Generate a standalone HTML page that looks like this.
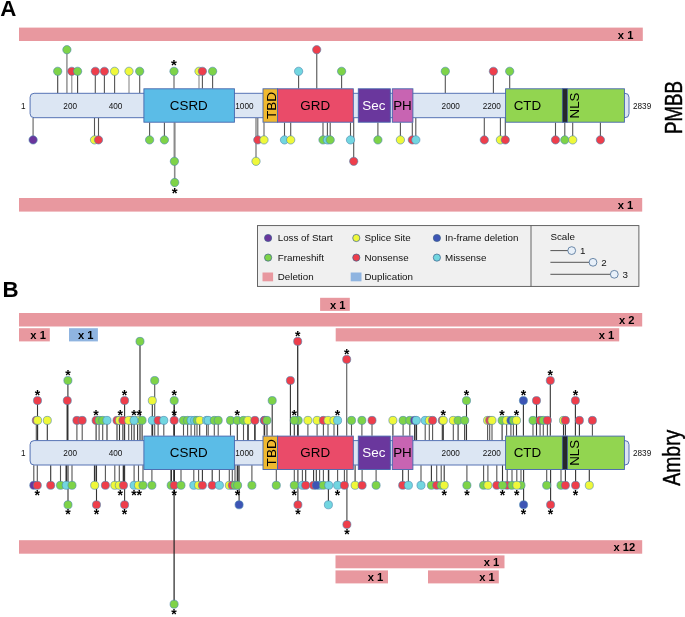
<!DOCTYPE html>
<html lang="en"><head><meta charset="utf-8"><title>NF1 variant lollipop plots</title>
<style>html,body{margin:0;padding:0;background:#fff}svg{display:block}</style></head><body>
<svg width="685" height="617" viewBox="0 0 685 617">
<rect width="685" height="617" fill="#fff"/>
<text x="0.3" y="16" font-size="22.3" font-weight="bold" font-family="Liberation Sans, Arial, sans-serif">A</text>
<rect x="19" y="27.6" width="623.8" height="13.4" fill="#e8989f"/>
<text x="633.4" y="38.7" font-size="11.2" font-weight="bold" text-anchor="end" font-family="Liberation Sans, Arial, sans-serif">x 1</text>
<rect x="19" y="198.0" width="623.2" height="13.6" fill="#e8989f"/>
<text x="633.2" y="209.2" font-size="11.2" font-weight="bold" text-anchor="end" font-family="Liberation Sans, Arial, sans-serif">x 1</text>
<line x1="57.7" y1="93.0" x2="57.7" y2="71.3" stroke="#444" stroke-width="1.1"/>
<line x1="66.9" y1="93.0" x2="66.9" y2="49.7" stroke="#999" stroke-width="1.6"/>
<line x1="71.8" y1="93.0" x2="71.8" y2="71.3" stroke="#8a8a8a" stroke-width="1.1"/>
<line x1="77.6" y1="93.0" x2="77.6" y2="71.3" stroke="#444" stroke-width="1.1"/>
<line x1="95.3" y1="93.0" x2="95.3" y2="71.3" stroke="#555" stroke-width="1.1"/>
<line x1="104.4" y1="93.0" x2="104.4" y2="71.3" stroke="#555" stroke-width="1.1"/>
<line x1="114.6" y1="93.0" x2="114.6" y2="71.3" stroke="#555" stroke-width="1.1"/>
<line x1="129.0" y1="93.0" x2="129.0" y2="71.3" stroke="#8a8a8a" stroke-width="1.1"/>
<line x1="139.7" y1="93.0" x2="139.7" y2="71.3" stroke="#555" stroke-width="1.1"/>
<line x1="174.0" y1="88.4" x2="174.0" y2="71.3" stroke="#8a8a8a" stroke-width="1.5"/>
<line x1="199.0" y1="88.4" x2="199.0" y2="71.3" stroke="#8a8a8a" stroke-width="1.1"/>
<line x1="202.4" y1="88.4" x2="202.4" y2="71.3" stroke="#555" stroke-width="1.1"/>
<line x1="212.6" y1="88.4" x2="212.6" y2="71.3" stroke="#555" stroke-width="1.1"/>
<line x1="298.6" y1="88.4" x2="298.6" y2="71.3" stroke="#555" stroke-width="1.1"/>
<line x1="316.7" y1="88.4" x2="316.7" y2="49.7" stroke="#777" stroke-width="1.4"/>
<line x1="341.6" y1="88.4" x2="341.6" y2="71.3" stroke="#555" stroke-width="1.1"/>
<line x1="445.3" y1="93.0" x2="445.3" y2="71.3" stroke="#555" stroke-width="1.1"/>
<line x1="493.4" y1="93.0" x2="493.4" y2="71.3" stroke="#555" stroke-width="1.1"/>
<line x1="509.7" y1="88.4" x2="509.7" y2="71.3" stroke="#555" stroke-width="1.1"/>
<circle cx="57.7" cy="71.3" r="4.15" fill="#7ed348" stroke="#4a86b0" stroke-width="0.6"/>
<circle cx="66.9" cy="49.7" r="4.15" fill="#7ed348" stroke="#4a86b0" stroke-width="0.6"/>
<circle cx="71.8" cy="71.3" r="4.15" fill="#ee3e4b" stroke="#4a86b0" stroke-width="0.6"/>
<circle cx="77.6" cy="71.3" r="4.15" fill="#7ed348" stroke="#4a86b0" stroke-width="0.6"/>
<circle cx="95.3" cy="71.3" r="4.15" fill="#ee3e4b" stroke="#4a86b0" stroke-width="0.6"/>
<circle cx="104.4" cy="71.3" r="4.15" fill="#ee3e4b" stroke="#4a86b0" stroke-width="0.6"/>
<circle cx="114.6" cy="71.3" r="4.15" fill="#eff83a" stroke="#4a86b0" stroke-width="0.6"/>
<circle cx="129.0" cy="71.3" r="4.15" fill="#eff83a" stroke="#4a86b0" stroke-width="0.6"/>
<circle cx="139.7" cy="71.3" r="4.15" fill="#7ed348" stroke="#4a86b0" stroke-width="0.6"/>
<circle cx="174.0" cy="71.3" r="4.15" fill="#7ed348" stroke="#4a86b0" stroke-width="0.6"/>
<circle cx="199.0" cy="71.3" r="4.15" fill="#eff83a" stroke="#4a86b0" stroke-width="0.6"/>
<circle cx="202.4" cy="71.3" r="4.15" fill="#ee3e4b" stroke="#4a86b0" stroke-width="0.6"/>
<circle cx="212.6" cy="71.3" r="4.15" fill="#7ed348" stroke="#4a86b0" stroke-width="0.6"/>
<circle cx="298.6" cy="71.3" r="4.15" fill="#72d6e0" stroke="#4a86b0" stroke-width="0.6"/>
<circle cx="316.7" cy="49.7" r="4.15" fill="#ee3e4b" stroke="#4a86b0" stroke-width="0.6"/>
<circle cx="341.6" cy="71.3" r="4.15" fill="#7ed348" stroke="#4a86b0" stroke-width="0.6"/>
<circle cx="445.3" cy="71.3" r="4.15" fill="#7ed348" stroke="#4a86b0" stroke-width="0.6"/>
<circle cx="493.4" cy="71.3" r="4.15" fill="#ee3e4b" stroke="#4a86b0" stroke-width="0.6"/>
<circle cx="509.7" cy="71.3" r="4.15" fill="#7ed348" stroke="#4a86b0" stroke-width="0.6"/>
<text x="174.0" y="70.0" font-size="15.0" font-weight="bold" text-anchor="middle" font-family="Liberation Sans, Arial, sans-serif">*</text>
<line x1="33.1" y1="118.0" x2="33.1" y2="139.9" stroke="#8a8a8a" stroke-width="1.5"/>
<line x1="94.5" y1="118.0" x2="94.5" y2="139.9" stroke="#555" stroke-width="1.1"/>
<line x1="98.5" y1="118.0" x2="98.5" y2="139.9" stroke="#555" stroke-width="1.1"/>
<line x1="149.6" y1="122.6" x2="149.6" y2="139.9" stroke="#555" stroke-width="1.1"/>
<line x1="164.4" y1="122.6" x2="164.4" y2="139.9" stroke="#555" stroke-width="1.1"/>
<line x1="174.4" y1="122.6" x2="174.4" y2="161.3" stroke="#8a8a8a" stroke-width="1.6"/>
<line x1="174.7" y1="122.6" x2="174.7" y2="182.5" stroke="#8a8a8a" stroke-width="1.6"/>
<line x1="256.0" y1="118.0" x2="256.0" y2="161.3" stroke="#666" stroke-width="1.1"/>
<line x1="257.8" y1="118.0" x2="257.8" y2="139.9" stroke="#666" stroke-width="1.1"/>
<line x1="264.0" y1="122.6" x2="264.0" y2="139.9" stroke="#666" stroke-width="1.1"/>
<line x1="284.5" y1="122.6" x2="284.5" y2="139.9" stroke="#555" stroke-width="1.1"/>
<line x1="290.7" y1="122.6" x2="290.7" y2="139.9" stroke="#555" stroke-width="1.1"/>
<line x1="323.0" y1="122.6" x2="323.0" y2="139.9" stroke="#555" stroke-width="1.1"/>
<line x1="327.4" y1="122.6" x2="327.4" y2="139.9" stroke="#555" stroke-width="1.1"/>
<line x1="330.2" y1="122.6" x2="330.2" y2="139.9" stroke="#555" stroke-width="1.1"/>
<line x1="350.5" y1="122.6" x2="350.5" y2="139.9" stroke="#555" stroke-width="1.1"/>
<line x1="353.7" y1="118.0" x2="353.7" y2="161.3" stroke="#555" stroke-width="1.1"/>
<line x1="377.9" y1="122.6" x2="377.9" y2="139.9" stroke="#555" stroke-width="1.1"/>
<line x1="400.4" y1="122.6" x2="400.4" y2="139.9" stroke="#555" stroke-width="1.1"/>
<line x1="412.3" y1="122.6" x2="412.3" y2="139.9" stroke="#555" stroke-width="1.1"/>
<line x1="415.8" y1="118.0" x2="415.8" y2="139.9" stroke="#555" stroke-width="1.1"/>
<line x1="484.3" y1="118.0" x2="484.3" y2="139.9" stroke="#555" stroke-width="1.1"/>
<line x1="500.4" y1="118.0" x2="500.4" y2="139.9" stroke="#555" stroke-width="1.1"/>
<line x1="505.3" y1="118.0" x2="505.3" y2="139.9" stroke="#555" stroke-width="1.1"/>
<line x1="555.5" y1="122.6" x2="555.5" y2="139.9" stroke="#555" stroke-width="1.1"/>
<line x1="564.8" y1="122.6" x2="564.8" y2="139.9" stroke="#555" stroke-width="1.1"/>
<line x1="572.7" y1="122.6" x2="572.7" y2="139.9" stroke="#555" stroke-width="1.1"/>
<line x1="600.4" y1="122.6" x2="600.4" y2="139.9" stroke="#555" stroke-width="1.1"/>
<circle cx="33.1" cy="139.9" r="4.15" fill="#6a359c" stroke="#4a86b0" stroke-width="0.6"/>
<circle cx="94.5" cy="139.9" r="4.15" fill="#eff83a" stroke="#4a86b0" stroke-width="0.6"/>
<circle cx="98.5" cy="139.9" r="4.15" fill="#ee3e4b" stroke="#4a86b0" stroke-width="0.6"/>
<circle cx="149.6" cy="139.9" r="4.15" fill="#7ed348" stroke="#4a86b0" stroke-width="0.6"/>
<circle cx="164.4" cy="139.9" r="4.15" fill="#7ed348" stroke="#4a86b0" stroke-width="0.6"/>
<circle cx="174.4" cy="161.3" r="4.15" fill="#7ed348" stroke="#4a86b0" stroke-width="0.6"/>
<circle cx="174.7" cy="182.5" r="4.15" fill="#7ed348" stroke="#4a86b0" stroke-width="0.6"/>
<circle cx="256.0" cy="161.3" r="4.15" fill="#eff83a" stroke="#4a86b0" stroke-width="0.6"/>
<circle cx="257.8" cy="139.9" r="4.15" fill="#ee3e4b" stroke="#4a86b0" stroke-width="0.6"/>
<circle cx="264.0" cy="139.9" r="4.15" fill="#eff83a" stroke="#4a86b0" stroke-width="0.6"/>
<circle cx="284.5" cy="139.9" r="4.15" fill="#72d6e0" stroke="#4a86b0" stroke-width="0.6"/>
<circle cx="290.7" cy="139.9" r="4.15" fill="#eff83a" stroke="#4a86b0" stroke-width="0.6"/>
<circle cx="323.0" cy="139.9" r="4.15" fill="#7ed348" stroke="#4a86b0" stroke-width="0.6"/>
<circle cx="327.4" cy="139.9" r="4.15" fill="#72d6e0" stroke="#4a86b0" stroke-width="0.6"/>
<circle cx="330.2" cy="139.9" r="4.15" fill="#7ed348" stroke="#4a86b0" stroke-width="0.6"/>
<circle cx="350.5" cy="139.9" r="4.15" fill="#72d6e0" stroke="#4a86b0" stroke-width="0.6"/>
<circle cx="353.7" cy="161.3" r="4.15" fill="#ee3e4b" stroke="#4a86b0" stroke-width="0.6"/>
<circle cx="377.9" cy="139.9" r="4.15" fill="#7ed348" stroke="#4a86b0" stroke-width="0.6"/>
<circle cx="400.4" cy="139.9" r="4.15" fill="#eff83a" stroke="#4a86b0" stroke-width="0.6"/>
<circle cx="412.3" cy="139.9" r="4.15" fill="#ee3e4b" stroke="#4a86b0" stroke-width="0.6"/>
<circle cx="415.8" cy="139.9" r="4.15" fill="#72d6e0" stroke="#4a86b0" stroke-width="0.6"/>
<circle cx="484.3" cy="139.9" r="4.15" fill="#ee3e4b" stroke="#4a86b0" stroke-width="0.6"/>
<circle cx="500.4" cy="139.9" r="4.15" fill="#eff83a" stroke="#4a86b0" stroke-width="0.6"/>
<circle cx="505.3" cy="139.9" r="4.15" fill="#ee3e4b" stroke="#4a86b0" stroke-width="0.6"/>
<circle cx="555.5" cy="139.9" r="4.15" fill="#ee3e4b" stroke="#4a86b0" stroke-width="0.6"/>
<circle cx="564.8" cy="139.9" r="4.15" fill="#7ed348" stroke="#4a86b0" stroke-width="0.6"/>
<circle cx="572.7" cy="139.9" r="4.15" fill="#eff83a" stroke="#4a86b0" stroke-width="0.6"/>
<circle cx="600.4" cy="139.9" r="4.15" fill="#ee3e4b" stroke="#4a86b0" stroke-width="0.6"/>
<text x="174.7" y="197.9" font-size="15.0" font-weight="bold" text-anchor="middle" font-family="Liberation Sans, Arial, sans-serif">*</text>
<rect x="30.1" y="93.30" width="598.9" height="24.4" rx="4" ry="4" fill="#dce6f3" stroke="#4565ad" stroke-width="0.9"/>
<rect x="143.9" y="88.80" width="90.5" height="33.4" fill="#5bbce7" stroke="#4565ad" stroke-width="0.9"/>
<rect x="263.0" y="88.80" width="14.6" height="33.4" fill="#f0b92e" stroke="#4565ad" stroke-width="0.9"/>
<rect x="277.6" y="88.80" width="75.7" height="33.4" fill="#ea4b69" stroke="#4565ad" stroke-width="0.9"/>
<rect x="358.3" y="88.80" width="32.0" height="33.4" fill="#6a379d" stroke="#4565ad" stroke-width="0.9"/>
<rect x="392.3" y="88.80" width="20.6" height="33.4" fill="#c864b2" stroke="#4565ad" stroke-width="0.9"/>
<rect x="505.6" y="88.80" width="118.8" height="33.4" fill="#92d550" stroke="#4565ad" stroke-width="0.9"/>
<rect x="562.3" y="88.80" width="5.2" height="33.4" fill="#26282c" stroke="#4565ad" stroke-width="0.7"/>
<text x="23.2" y="108.6" font-size="8.2" text-anchor="middle" font-family="Liberation Sans, Arial, sans-serif" fill="#111">1</text>
<text x="70.2" y="108.6" font-size="8.2" text-anchor="middle" font-family="Liberation Sans, Arial, sans-serif" fill="#111">200</text>
<text x="115.6" y="108.6" font-size="8.2" text-anchor="middle" font-family="Liberation Sans, Arial, sans-serif" fill="#111">400</text>
<text x="244.4" y="108.6" font-size="8.2" text-anchor="middle" font-family="Liberation Sans, Arial, sans-serif" fill="#111">1000</text>
<text x="450.7" y="108.6" font-size="8.2" text-anchor="middle" font-family="Liberation Sans, Arial, sans-serif" fill="#111">2000</text>
<text x="491.8" y="108.6" font-size="8.2" text-anchor="middle" font-family="Liberation Sans, Arial, sans-serif" fill="#111">2200</text>
<text x="642.1" y="108.6" font-size="8.2" text-anchor="middle" font-family="Liberation Sans, Arial, sans-serif" fill="#111">2839</text>
<text x="188.8" y="109.9" font-size="13.4" text-anchor="middle" font-family="Liberation Sans, Arial, sans-serif" fill="#000">CSRD</text>
<text x="315.2" y="109.9" font-size="13.4" text-anchor="middle" font-family="Liberation Sans, Arial, sans-serif" fill="#000">GRD</text>
<text x="373.9" y="109.9" font-size="13.4" text-anchor="middle" font-family="Liberation Sans, Arial, sans-serif" fill="#fff">Sec</text>
<text x="402.5" y="109.9" font-size="13.4" text-anchor="middle" font-family="Liberation Sans, Arial, sans-serif" fill="#000">PH</text>
<text x="527.4" y="109.9" font-size="13.4" text-anchor="middle" font-family="Liberation Sans, Arial, sans-serif" fill="#000">CTD</text>
<text transform="translate(275.7,105.5) rotate(-90)" font-size="13.6" text-anchor="middle" font-family="Liberation Sans, Arial, sans-serif">TBD</text>
<text transform="translate(579.1,105.5) rotate(-90)" font-size="13.3" text-anchor="middle" font-family="Liberation Sans, Arial, sans-serif">NLS</text>
<text transform="translate(681.6,107.5) rotate(-90) scale(0.775,1)" font-size="24.2" stroke="#000" stroke-width="0.45" text-anchor="middle" font-family="Liberation Sans, Arial, sans-serif">PMBB</text>
<rect x="257.5" y="225.6" width="381.4" height="60.8" fill="#f0f0f0" stroke="#555" stroke-width="0.9"/>
<line x1="531" y1="225.6" x2="531" y2="286.4" stroke="#555" stroke-width="0.9"/>
<circle cx="268.1" cy="238.0" r="3.6" fill="#6a359c" stroke="#3b5f8a" stroke-width="0.7"/>
<text x="277.7" y="241.3" font-size="9.8" font-family="Liberation Sans, Arial, sans-serif" fill="#111">Loss of Start</text>
<circle cx="268.1" cy="257.6" r="3.6" fill="#7ed348" stroke="#3b5f8a" stroke-width="0.7"/>
<text x="277.7" y="260.9" font-size="9.8" font-family="Liberation Sans, Arial, sans-serif" fill="#111">Frameshift</text>
<circle cx="356.3" cy="238.0" r="3.6" fill="#eff83a" stroke="#3b5f8a" stroke-width="0.7"/>
<text x="364.5" y="241.3" font-size="9.8" font-family="Liberation Sans, Arial, sans-serif" fill="#111">Splice Site</text>
<circle cx="356.3" cy="257.6" r="3.6" fill="#ee3e4b" stroke="#3b5f8a" stroke-width="0.7"/>
<text x="364.5" y="260.9" font-size="9.8" font-family="Liberation Sans, Arial, sans-serif" fill="#111">Nonsense</text>
<circle cx="436.9" cy="238.0" r="3.6" fill="#3d55b5" stroke="#3b5f8a" stroke-width="0.7"/>
<text x="445.0" y="241.3" font-size="9.8" font-family="Liberation Sans, Arial, sans-serif" fill="#111">In-frame deletion</text>
<circle cx="436.9" cy="257.6" r="3.6" fill="#72d6e0" stroke="#3b5f8a" stroke-width="0.7"/>
<text x="445.0" y="260.9" font-size="9.8" font-family="Liberation Sans, Arial, sans-serif" fill="#111">Missense</text>
<rect x="262.5" y="272.5" width="10.6" height="8.8" fill="#e8989f"/>
<text x="277.7" y="280.2" font-size="9.8" font-family="Liberation Sans, Arial, sans-serif" fill="#111">Deletion</text>
<rect x="350.7" y="272.5" width="10.8" height="8.8" fill="#8fb4e0"/>
<text x="364.5" y="280.2" font-size="9.8" font-family="Liberation Sans, Arial, sans-serif" fill="#111">Duplication</text>
<text x="550.4" y="240.2" font-size="9.8" font-family="Liberation Sans, Arial, sans-serif" fill="#111">Scale</text>
<line x1="550.4" y1="250.6" x2="571.7" y2="250.6" stroke="#444" stroke-width="0.9"/>
<circle cx="571.7" cy="250.6" r="3.9" fill="#e8f0f9" stroke="#4a6d94" stroke-width="0.8"/>
<text x="579.9" y="253.9" font-size="9.8" font-family="Liberation Sans, Arial, sans-serif" fill="#111">1</text>
<line x1="550.4" y1="262.3" x2="593.0" y2="262.3" stroke="#444" stroke-width="0.9"/>
<circle cx="593.0" cy="262.3" r="3.9" fill="#e8f0f9" stroke="#4a6d94" stroke-width="0.8"/>
<text x="601.2" y="265.6" font-size="9.8" font-family="Liberation Sans, Arial, sans-serif" fill="#111">2</text>
<line x1="550.4" y1="274.3" x2="614.3" y2="274.3" stroke="#444" stroke-width="0.9"/>
<circle cx="614.3" cy="274.3" r="3.9" fill="#e8f0f9" stroke="#4a6d94" stroke-width="0.8"/>
<text x="622.5" y="277.6" font-size="9.8" font-family="Liberation Sans, Arial, sans-serif" fill="#111">3</text>
<text x="2.4" y="297" font-size="22.3" font-weight="bold" font-family="Liberation Sans, Arial, sans-serif">B</text>
<rect x="320.1" y="297.8" width="29.7" height="13.1" fill="#e8989f"/>
<text x="345.6" y="308.8" font-size="11.2" font-weight="bold" text-anchor="end" font-family="Liberation Sans, Arial, sans-serif">x 1</text>
<rect x="19" y="313.0" width="623.2" height="13.5" fill="#e8989f"/>
<text x="634.6" y="324.1" font-size="11.2" font-weight="bold" text-anchor="end" font-family="Liberation Sans, Arial, sans-serif">x 2</text>
<rect x="19" y="328.2" width="30.8" height="13.2" fill="#e8989f"/>
<text x="45.9" y="339.2" font-size="11.2" font-weight="bold" text-anchor="end" font-family="Liberation Sans, Arial, sans-serif">x 1</text>
<rect x="69.0" y="328.2" width="28.9" height="13.2" fill="#8fb4e0"/>
<text x="93.6" y="339.2" font-size="11.2" font-weight="bold" text-anchor="end" font-family="Liberation Sans, Arial, sans-serif">x 1</text>
<rect x="335.7" y="328.2" width="283.5" height="13.2" fill="#e8989f"/>
<text x="614.3" y="339.2" font-size="11.2" font-weight="bold" text-anchor="end" font-family="Liberation Sans, Arial, sans-serif">x 1</text>
<rect x="19" y="540.2" width="623.2" height="13.5" fill="#e8989f"/>
<text x="635.3" y="551.4" font-size="11.2" font-weight="bold" text-anchor="end" font-family="Liberation Sans, Arial, sans-serif">x 12</text>
<rect x="335.5" y="555.4" width="169.0" height="12.9" fill="#e8989f"/>
<text x="499.2" y="566.2" font-size="11.2" font-weight="bold" text-anchor="end" font-family="Liberation Sans, Arial, sans-serif">x 1</text>
<rect x="335.5" y="570.4" width="52.5" height="13.0" fill="#e8989f"/>
<text x="383.2" y="581.3" font-size="11.2" font-weight="bold" text-anchor="end" font-family="Liberation Sans, Arial, sans-serif">x 1</text>
<rect x="428.0" y="570.4" width="70.8" height="13.0" fill="#e8989f"/>
<text x="494.7" y="581.3" font-size="11.2" font-weight="bold" text-anchor="end" font-family="Liberation Sans, Arial, sans-serif">x 1</text>
<line x1="36.3" y1="440.3" x2="36.3" y2="420.4" stroke="#555" stroke-width="1.1"/>
<line x1="37.6" y1="440.3" x2="37.6" y2="420.4" stroke="#555" stroke-width="1.1"/>
<line x1="37.5" y1="440.3" x2="37.5" y2="400.6" stroke="#333" stroke-width="1.1"/>
<line x1="47.3" y1="440.3" x2="47.3" y2="420.4" stroke="#333" stroke-width="1.1"/>
<line x1="67.3" y1="440.3" x2="67.3" y2="400.6" stroke="#333" stroke-width="1.5"/>
<line x1="67.9" y1="440.3" x2="67.9" y2="380.5" stroke="#333" stroke-width="1.1"/>
<line x1="76.9" y1="440.3" x2="76.9" y2="420.4" stroke="#555" stroke-width="1.1"/>
<line x1="82.2" y1="440.3" x2="82.2" y2="420.4" stroke="#555" stroke-width="1.1"/>
<line x1="96.1" y1="440.3" x2="96.1" y2="420.4" stroke="#333" stroke-width="1.1"/>
<line x1="99.1" y1="440.3" x2="99.1" y2="420.4" stroke="#555" stroke-width="1.1"/>
<line x1="102.7" y1="440.3" x2="102.7" y2="420.4" stroke="#555" stroke-width="1.1"/>
<line x1="107.0" y1="440.3" x2="107.0" y2="420.4" stroke="#333" stroke-width="1.1"/>
<line x1="117.0" y1="440.3" x2="117.0" y2="420.4" stroke="#333" stroke-width="1.1"/>
<line x1="119.5" y1="440.3" x2="119.5" y2="420.4" stroke="#333" stroke-width="1.1"/>
<line x1="122.9" y1="440.3" x2="122.9" y2="420.4" stroke="#333" stroke-width="1.1"/>
<line x1="124.6" y1="440.3" x2="124.6" y2="400.6" stroke="#333" stroke-width="1.1"/>
<line x1="131.6" y1="440.3" x2="131.6" y2="420.4" stroke="#555" stroke-width="1.1"/>
<line x1="128.7" y1="440.3" x2="128.7" y2="420.4" stroke="#555" stroke-width="1.1"/>
<line x1="137.6" y1="440.3" x2="137.6" y2="420.4" stroke="#333" stroke-width="1.1"/>
<line x1="134.1" y1="440.3" x2="134.1" y2="420.4" stroke="#333" stroke-width="1.1"/>
<line x1="140.0" y1="440.3" x2="140.0" y2="341.4" stroke="#555" stroke-width="1.4"/>
<line x1="142.1" y1="440.3" x2="142.1" y2="420.4" stroke="#333" stroke-width="1.1"/>
<line x1="152.4" y1="435.7" x2="152.4" y2="420.4" stroke="#333" stroke-width="1.6"/>
<line x1="152.3" y1="435.7" x2="152.3" y2="400.6" stroke="#333" stroke-width="1.1"/>
<line x1="154.7" y1="435.7" x2="154.7" y2="380.5" stroke="#555" stroke-width="1.1"/>
<line x1="158.1" y1="435.7" x2="158.1" y2="420.4" stroke="#555" stroke-width="1.1"/>
<line x1="163.8" y1="435.7" x2="163.8" y2="420.4" stroke="#555" stroke-width="1.1"/>
<line x1="174.2" y1="435.7" x2="174.2" y2="420.4" stroke="#333" stroke-width="1.5"/>
<line x1="174.2" y1="435.7" x2="174.2" y2="400.6" stroke="#333" stroke-width="1.5"/>
<line x1="183.5" y1="435.7" x2="183.5" y2="420.4" stroke="#555" stroke-width="1.1"/>
<line x1="187.6" y1="435.7" x2="187.6" y2="420.4" stroke="#555" stroke-width="1.1"/>
<line x1="191.1" y1="435.7" x2="191.1" y2="420.4" stroke="#555" stroke-width="1.1"/>
<line x1="194.7" y1="435.7" x2="194.7" y2="420.4" stroke="#555" stroke-width="1.1"/>
<line x1="197.0" y1="435.7" x2="197.0" y2="420.4" stroke="#555" stroke-width="1.1"/>
<line x1="199.7" y1="435.7" x2="199.7" y2="420.4" stroke="#333" stroke-width="1.1"/>
<line x1="206.6" y1="435.7" x2="206.6" y2="420.4" stroke="#555" stroke-width="1.1"/>
<line x1="208.2" y1="435.7" x2="208.2" y2="420.4" stroke="#555" stroke-width="1.1"/>
<line x1="214.3" y1="435.7" x2="214.3" y2="420.4" stroke="#555" stroke-width="1.1"/>
<line x1="218.2" y1="435.7" x2="218.2" y2="420.4" stroke="#555" stroke-width="1.1"/>
<line x1="230.5" y1="435.7" x2="230.5" y2="420.4" stroke="#555" stroke-width="1.1"/>
<line x1="237.3" y1="440.3" x2="237.3" y2="420.4" stroke="#333" stroke-width="1.1"/>
<line x1="243.5" y1="440.3" x2="243.5" y2="420.4" stroke="#555" stroke-width="1.1"/>
<line x1="248.0" y1="440.3" x2="248.0" y2="420.4" stroke="#333" stroke-width="1.6"/>
<line x1="254.9" y1="440.3" x2="254.9" y2="420.4" stroke="#333" stroke-width="1.6"/>
<line x1="264.4" y1="435.7" x2="264.4" y2="420.4" stroke="#333" stroke-width="1.6"/>
<line x1="267.0" y1="435.7" x2="267.0" y2="420.4" stroke="#333" stroke-width="1.1"/>
<line x1="272.2" y1="435.7" x2="272.2" y2="400.6" stroke="#333" stroke-width="1.1"/>
<line x1="290.4" y1="435.7" x2="290.4" y2="380.5" stroke="#333" stroke-width="1.1"/>
<line x1="298.2" y1="435.7" x2="298.2" y2="420.4" stroke="#555" stroke-width="1.1"/>
<line x1="294.3" y1="435.7" x2="294.3" y2="420.4" stroke="#333" stroke-width="1.1"/>
<line x1="297.7" y1="435.7" x2="297.7" y2="341.4" stroke="#333" stroke-width="1.3"/>
<line x1="307.9" y1="435.7" x2="307.9" y2="420.4" stroke="#555" stroke-width="1.1"/>
<line x1="317.1" y1="435.7" x2="317.1" y2="420.4" stroke="#555" stroke-width="1.1"/>
<line x1="323.4" y1="435.7" x2="323.4" y2="420.4" stroke="#555" stroke-width="1.1"/>
<line x1="328.0" y1="435.7" x2="328.0" y2="420.4" stroke="#555" stroke-width="1.1"/>
<line x1="334.0" y1="435.7" x2="334.0" y2="420.4" stroke="#555" stroke-width="1.1"/>
<line x1="337.6" y1="435.7" x2="337.6" y2="420.4" stroke="#333" stroke-width="1.1"/>
<line x1="346.7" y1="435.7" x2="346.7" y2="359.4" stroke="#666" stroke-width="1.2"/>
<line x1="351.5" y1="435.7" x2="351.5" y2="420.4" stroke="#555" stroke-width="1.1"/>
<line x1="361.9" y1="435.7" x2="361.9" y2="420.4" stroke="#555" stroke-width="1.1"/>
<line x1="372.0" y1="435.7" x2="372.0" y2="420.4" stroke="#555" stroke-width="1.1"/>
<line x1="392.9" y1="435.7" x2="392.9" y2="420.4" stroke="#333" stroke-width="1.1"/>
<line x1="403.1" y1="435.7" x2="403.1" y2="420.4" stroke="#555" stroke-width="1.1"/>
<line x1="409.8" y1="435.7" x2="409.8" y2="420.4" stroke="#555" stroke-width="1.1"/>
<line x1="414.6" y1="440.3" x2="414.6" y2="420.4" stroke="#333" stroke-width="1.1"/>
<line x1="416.3" y1="440.3" x2="416.3" y2="420.4" stroke="#333" stroke-width="1.6"/>
<line x1="425.2" y1="440.3" x2="425.2" y2="420.4" stroke="#555" stroke-width="1.1"/>
<line x1="429.3" y1="440.3" x2="429.3" y2="420.4" stroke="#555" stroke-width="1.1"/>
<line x1="432.6" y1="440.3" x2="432.6" y2="420.4" stroke="#555" stroke-width="1.1"/>
<line x1="442.3" y1="440.3" x2="442.3" y2="420.4" stroke="#333" stroke-width="1.1"/>
<line x1="443.3" y1="440.3" x2="443.3" y2="420.4" stroke="#333" stroke-width="1.1"/>
<line x1="453.3" y1="440.3" x2="453.3" y2="420.4" stroke="#555" stroke-width="1.1"/>
<line x1="458.1" y1="440.3" x2="458.1" y2="420.4" stroke="#333" stroke-width="1.1"/>
<line x1="464.7" y1="440.3" x2="464.7" y2="420.4" stroke="#333" stroke-width="1.1"/>
<line x1="466.5" y1="440.3" x2="466.5" y2="400.6" stroke="#333" stroke-width="1.1"/>
<line x1="487.6" y1="440.3" x2="487.6" y2="420.4" stroke="#555" stroke-width="1.1"/>
<line x1="489.7" y1="440.3" x2="489.7" y2="420.4" stroke="#555" stroke-width="1.1"/>
<line x1="492.0" y1="440.3" x2="492.0" y2="420.4" stroke="#555" stroke-width="1.1"/>
<line x1="502.1" y1="440.3" x2="502.1" y2="420.4" stroke="#333" stroke-width="1.1"/>
<line x1="506.6" y1="435.7" x2="506.6" y2="420.4" stroke="#555" stroke-width="1.1"/>
<line x1="510.9" y1="435.7" x2="510.9" y2="420.4" stroke="#555" stroke-width="1.1"/>
<line x1="513.4" y1="435.7" x2="513.4" y2="420.4" stroke="#555" stroke-width="1.1"/>
<line x1="516.5" y1="435.7" x2="516.5" y2="420.4" stroke="#333" stroke-width="1.1"/>
<line x1="523.4" y1="435.7" x2="523.4" y2="400.6" stroke="#333" stroke-width="1.1"/>
<line x1="533.0" y1="435.7" x2="533.0" y2="420.4" stroke="#555" stroke-width="1.1"/>
<line x1="536.5" y1="435.7" x2="536.5" y2="400.6" stroke="#333" stroke-width="1.1"/>
<line x1="540.1" y1="435.7" x2="540.1" y2="420.4" stroke="#555" stroke-width="1.1"/>
<line x1="543.3" y1="435.7" x2="543.3" y2="420.4" stroke="#555" stroke-width="1.1"/>
<line x1="547.4" y1="435.7" x2="547.4" y2="420.4" stroke="#555" stroke-width="1.1"/>
<line x1="550.3" y1="435.7" x2="550.3" y2="380.5" stroke="#333" stroke-width="1.1"/>
<line x1="563.5" y1="435.7" x2="563.5" y2="420.4" stroke="#333" stroke-width="1.1"/>
<line x1="565.4" y1="435.7" x2="565.4" y2="420.4" stroke="#333" stroke-width="1.1"/>
<line x1="575.4" y1="435.7" x2="575.4" y2="400.6" stroke="#333" stroke-width="1.1"/>
<line x1="579.4" y1="435.7" x2="579.4" y2="420.4" stroke="#333" stroke-width="1.1"/>
<line x1="592.4" y1="435.7" x2="592.4" y2="420.4" stroke="#555" stroke-width="1.1"/>
<circle cx="36.3" cy="420.4" r="4.05" fill="#ee3e4b" stroke="#4a86b0" stroke-width="0.6"/>
<circle cx="37.6" cy="420.4" r="4.05" fill="#eff83a" stroke="#4a86b0" stroke-width="0.6"/>
<circle cx="37.5" cy="400.6" r="4.05" fill="#ee3e4b" stroke="#4a86b0" stroke-width="0.6"/>
<circle cx="47.3" cy="420.4" r="4.05" fill="#eff83a" stroke="#4a86b0" stroke-width="0.6"/>
<circle cx="67.3" cy="400.6" r="4.05" fill="#ee3e4b" stroke="#4a86b0" stroke-width="0.6"/>
<circle cx="67.9" cy="380.5" r="4.05" fill="#7ed348" stroke="#4a86b0" stroke-width="0.6"/>
<circle cx="76.9" cy="420.4" r="4.05" fill="#ee3e4b" stroke="#4a86b0" stroke-width="0.6"/>
<circle cx="82.2" cy="420.4" r="4.05" fill="#ee3e4b" stroke="#4a86b0" stroke-width="0.6"/>
<circle cx="96.1" cy="420.4" r="4.05" fill="#ee3e4b" stroke="#4a86b0" stroke-width="0.6"/>
<circle cx="99.1" cy="420.4" r="4.05" fill="#7ed348" stroke="#4a86b0" stroke-width="0.6"/>
<circle cx="102.7" cy="420.4" r="4.05" fill="#7ed348" stroke="#4a86b0" stroke-width="0.6"/>
<circle cx="107.0" cy="420.4" r="4.05" fill="#72d6e0" stroke="#4a86b0" stroke-width="0.6"/>
<circle cx="117.0" cy="420.4" r="4.05" fill="#ee3e4b" stroke="#4a86b0" stroke-width="0.6"/>
<circle cx="119.5" cy="420.4" r="4.05" fill="#eff83a" stroke="#4a86b0" stroke-width="0.6"/>
<circle cx="122.9" cy="420.4" r="4.05" fill="#ee3e4b" stroke="#4a86b0" stroke-width="0.6"/>
<circle cx="124.6" cy="400.6" r="4.05" fill="#ee3e4b" stroke="#4a86b0" stroke-width="0.6"/>
<circle cx="131.6" cy="420.4" r="4.05" fill="#ee3e4b" stroke="#4a86b0" stroke-width="0.6"/>
<circle cx="128.7" cy="420.4" r="4.05" fill="#eff83a" stroke="#4a86b0" stroke-width="0.6"/>
<circle cx="137.6" cy="420.4" r="4.05" fill="#eff83a" stroke="#4a86b0" stroke-width="0.6"/>
<circle cx="134.1" cy="420.4" r="4.05" fill="#72d6e0" stroke="#4a86b0" stroke-width="0.6"/>
<circle cx="140.0" cy="341.4" r="4.05" fill="#7ed348" stroke="#4a86b0" stroke-width="0.6"/>
<circle cx="142.1" cy="420.4" r="4.05" fill="#7ed348" stroke="#4a86b0" stroke-width="0.6"/>
<circle cx="152.4" cy="420.4" r="4.05" fill="#72d6e0" stroke="#4a86b0" stroke-width="0.6"/>
<circle cx="152.3" cy="400.6" r="4.05" fill="#eff83a" stroke="#4a86b0" stroke-width="0.6"/>
<circle cx="154.7" cy="380.5" r="4.05" fill="#7ed348" stroke="#4a86b0" stroke-width="0.6"/>
<circle cx="158.1" cy="420.4" r="4.05" fill="#ee3e4b" stroke="#4a86b0" stroke-width="0.6"/>
<circle cx="163.8" cy="420.4" r="4.05" fill="#72d6e0" stroke="#4a86b0" stroke-width="0.6"/>
<circle cx="174.2" cy="420.4" r="4.05" fill="#ee3e4b" stroke="#4a86b0" stroke-width="0.6"/>
<circle cx="174.2" cy="400.6" r="4.05" fill="#7ed348" stroke="#4a86b0" stroke-width="0.6"/>
<circle cx="183.5" cy="420.4" r="4.05" fill="#7ed348" stroke="#4a86b0" stroke-width="0.6"/>
<circle cx="187.6" cy="420.4" r="4.05" fill="#7ed348" stroke="#4a86b0" stroke-width="0.6"/>
<circle cx="191.1" cy="420.4" r="4.05" fill="#72d6e0" stroke="#4a86b0" stroke-width="0.6"/>
<circle cx="194.7" cy="420.4" r="4.05" fill="#72d6e0" stroke="#4a86b0" stroke-width="0.6"/>
<circle cx="197.0" cy="420.4" r="4.05" fill="#7ed348" stroke="#4a86b0" stroke-width="0.6"/>
<circle cx="199.7" cy="420.4" r="4.05" fill="#eff83a" stroke="#4a86b0" stroke-width="0.6"/>
<circle cx="206.6" cy="420.4" r="4.05" fill="#72d6e0" stroke="#4a86b0" stroke-width="0.6"/>
<circle cx="208.2" cy="420.4" r="4.05" fill="#72d6e0" stroke="#4a86b0" stroke-width="0.6"/>
<circle cx="214.3" cy="420.4" r="4.05" fill="#7ed348" stroke="#4a86b0" stroke-width="0.6"/>
<circle cx="218.2" cy="420.4" r="4.05" fill="#7ed348" stroke="#4a86b0" stroke-width="0.6"/>
<circle cx="230.5" cy="420.4" r="4.05" fill="#7ed348" stroke="#4a86b0" stroke-width="0.6"/>
<circle cx="237.3" cy="420.4" r="4.05" fill="#7ed348" stroke="#4a86b0" stroke-width="0.6"/>
<circle cx="243.5" cy="420.4" r="4.05" fill="#7ed348" stroke="#4a86b0" stroke-width="0.6"/>
<circle cx="248.0" cy="420.4" r="4.05" fill="#eff83a" stroke="#4a86b0" stroke-width="0.6"/>
<circle cx="254.9" cy="420.4" r="4.05" fill="#ee3e4b" stroke="#4a86b0" stroke-width="0.6"/>
<circle cx="264.4" cy="420.4" r="4.05" fill="#6a359c" stroke="#4a86b0" stroke-width="0.6"/>
<circle cx="264.9" cy="420.4" r="4.05" fill="#ee3e4b" stroke="#4a86b0" stroke-width="0.6"/>
<circle cx="267.0" cy="420.4" r="4.05" fill="#7ed348" stroke="#4a86b0" stroke-width="0.6"/>
<circle cx="272.2" cy="400.6" r="4.05" fill="#7ed348" stroke="#4a86b0" stroke-width="0.6"/>
<circle cx="290.4" cy="380.5" r="4.05" fill="#ee3e4b" stroke="#4a86b0" stroke-width="0.6"/>
<circle cx="298.2" cy="420.4" r="4.05" fill="#7ed348" stroke="#4a86b0" stroke-width="0.6"/>
<circle cx="294.3" cy="420.4" r="4.05" fill="#7ed348" stroke="#4a86b0" stroke-width="0.6"/>
<circle cx="297.7" cy="341.4" r="4.05" fill="#ee3e4b" stroke="#4a86b0" stroke-width="0.6"/>
<circle cx="307.9" cy="420.4" r="4.05" fill="#eff83a" stroke="#4a86b0" stroke-width="0.6"/>
<circle cx="317.1" cy="420.4" r="4.05" fill="#eff83a" stroke="#4a86b0" stroke-width="0.6"/>
<circle cx="323.4" cy="420.4" r="4.05" fill="#ee3e4b" stroke="#4a86b0" stroke-width="0.6"/>
<circle cx="328.0" cy="420.4" r="4.05" fill="#eff83a" stroke="#4a86b0" stroke-width="0.6"/>
<circle cx="334.0" cy="420.4" r="4.05" fill="#eff83a" stroke="#4a86b0" stroke-width="0.6"/>
<circle cx="337.6" cy="420.4" r="4.05" fill="#72d6e0" stroke="#4a86b0" stroke-width="0.6"/>
<circle cx="346.7" cy="359.4" r="4.05" fill="#ee3e4b" stroke="#4a86b0" stroke-width="0.6"/>
<circle cx="351.5" cy="420.4" r="4.05" fill="#7ed348" stroke="#4a86b0" stroke-width="0.6"/>
<circle cx="361.9" cy="420.4" r="4.05" fill="#7ed348" stroke="#4a86b0" stroke-width="0.6"/>
<circle cx="372.0" cy="420.4" r="4.05" fill="#ee3e4b" stroke="#4a86b0" stroke-width="0.6"/>
<circle cx="392.9" cy="420.4" r="4.05" fill="#eff83a" stroke="#4a86b0" stroke-width="0.6"/>
<circle cx="403.1" cy="420.4" r="4.05" fill="#7ed348" stroke="#4a86b0" stroke-width="0.6"/>
<circle cx="409.8" cy="420.4" r="4.05" fill="#7ed348" stroke="#4a86b0" stroke-width="0.6"/>
<circle cx="414.6" cy="420.4" r="4.05" fill="#6a359c" stroke="#4a86b0" stroke-width="0.6"/>
<circle cx="416.3" cy="420.4" r="4.05" fill="#72d6e0" stroke="#4a86b0" stroke-width="0.6"/>
<circle cx="425.2" cy="420.4" r="4.05" fill="#72d6e0" stroke="#4a86b0" stroke-width="0.6"/>
<circle cx="429.3" cy="420.4" r="4.05" fill="#eff83a" stroke="#4a86b0" stroke-width="0.6"/>
<circle cx="432.6" cy="420.4" r="4.05" fill="#ee3e4b" stroke="#4a86b0" stroke-width="0.6"/>
<circle cx="442.3" cy="420.4" r="4.05" fill="#ee3e4b" stroke="#4a86b0" stroke-width="0.6"/>
<circle cx="443.3" cy="420.4" r="4.05" fill="#eff83a" stroke="#4a86b0" stroke-width="0.6"/>
<circle cx="453.3" cy="420.4" r="4.05" fill="#eff83a" stroke="#4a86b0" stroke-width="0.6"/>
<circle cx="458.1" cy="420.4" r="4.05" fill="#7ed348" stroke="#4a86b0" stroke-width="0.6"/>
<circle cx="464.7" cy="420.4" r="4.05" fill="#7ed348" stroke="#4a86b0" stroke-width="0.6"/>
<circle cx="466.5" cy="400.6" r="4.05" fill="#7ed348" stroke="#4a86b0" stroke-width="0.6"/>
<circle cx="487.6" cy="420.4" r="4.05" fill="#eff83a" stroke="#4a86b0" stroke-width="0.6"/>
<circle cx="489.7" cy="420.4" r="4.05" fill="#ee3e4b" stroke="#4a86b0" stroke-width="0.6"/>
<circle cx="492.0" cy="420.4" r="4.05" fill="#eff83a" stroke="#4a86b0" stroke-width="0.6"/>
<circle cx="502.1" cy="420.4" r="4.05" fill="#7ed348" stroke="#4a86b0" stroke-width="0.6"/>
<circle cx="506.6" cy="420.4" r="4.05" fill="#eff83a" stroke="#4a86b0" stroke-width="0.6"/>
<circle cx="510.9" cy="420.4" r="4.05" fill="#3d55b5" stroke="#4a86b0" stroke-width="0.6"/>
<circle cx="513.4" cy="420.4" r="4.05" fill="#7ed348" stroke="#4a86b0" stroke-width="0.6"/>
<circle cx="516.5" cy="420.4" r="4.05" fill="#eff83a" stroke="#4a86b0" stroke-width="0.6"/>
<circle cx="523.4" cy="400.6" r="4.05" fill="#3d55b5" stroke="#4a86b0" stroke-width="0.6"/>
<circle cx="533.0" cy="420.4" r="4.05" fill="#7ed348" stroke="#4a86b0" stroke-width="0.6"/>
<circle cx="536.5" cy="400.6" r="4.05" fill="#ee3e4b" stroke="#4a86b0" stroke-width="0.6"/>
<circle cx="540.1" cy="420.4" r="4.05" fill="#ee3e4b" stroke="#4a86b0" stroke-width="0.6"/>
<circle cx="543.3" cy="420.4" r="4.05" fill="#7ed348" stroke="#4a86b0" stroke-width="0.6"/>
<circle cx="547.4" cy="420.4" r="4.05" fill="#ee3e4b" stroke="#4a86b0" stroke-width="0.6"/>
<circle cx="550.3" cy="380.5" r="4.05" fill="#ee3e4b" stroke="#4a86b0" stroke-width="0.6"/>
<circle cx="563.5" cy="420.4" r="4.05" fill="#eff83a" stroke="#4a86b0" stroke-width="0.6"/>
<circle cx="565.4" cy="420.4" r="4.05" fill="#ee3e4b" stroke="#4a86b0" stroke-width="0.6"/>
<circle cx="575.4" cy="400.6" r="4.05" fill="#ee3e4b" stroke="#4a86b0" stroke-width="0.6"/>
<circle cx="579.4" cy="420.4" r="4.05" fill="#ee3e4b" stroke="#4a86b0" stroke-width="0.6"/>
<circle cx="592.4" cy="420.4" r="4.05" fill="#ee3e4b" stroke="#4a86b0" stroke-width="0.6"/>
<text x="37.5" y="399.9" font-size="14.0" font-weight="bold" text-anchor="middle" font-family="Liberation Sans, Arial, sans-serif">*</text>
<text x="67.9" y="379.8" font-size="14.0" font-weight="bold" text-anchor="middle" font-family="Liberation Sans, Arial, sans-serif">*</text>
<text x="96.1" y="419.7" font-size="14.0" font-weight="bold" text-anchor="middle" font-family="Liberation Sans, Arial, sans-serif">*</text>
<text x="120.3" y="419.7" font-size="14.0" font-weight="bold" text-anchor="middle" font-family="Liberation Sans, Arial, sans-serif">*</text>
<text x="124.6" y="399.9" font-size="14.0" font-weight="bold" text-anchor="middle" font-family="Liberation Sans, Arial, sans-serif">*</text>
<text x="139.2" y="419.7" font-size="14.0" font-weight="bold" text-anchor="middle" font-family="Liberation Sans, Arial, sans-serif">*</text>
<text x="134.1" y="419.7" font-size="14.0" font-weight="bold" text-anchor="middle" font-family="Liberation Sans, Arial, sans-serif">*</text>
<text x="174.2" y="419.7" font-size="14.0" font-weight="bold" text-anchor="middle" font-family="Liberation Sans, Arial, sans-serif">*</text>
<text x="174.2" y="399.9" font-size="14.0" font-weight="bold" text-anchor="middle" font-family="Liberation Sans, Arial, sans-serif">*</text>
<text x="237.3" y="419.7" font-size="14.0" font-weight="bold" text-anchor="middle" font-family="Liberation Sans, Arial, sans-serif">*</text>
<text x="294.3" y="419.7" font-size="14.0" font-weight="bold" text-anchor="middle" font-family="Liberation Sans, Arial, sans-serif">*</text>
<text x="297.7" y="340.7" font-size="14.0" font-weight="bold" text-anchor="middle" font-family="Liberation Sans, Arial, sans-serif">*</text>
<text x="337.6" y="419.7" font-size="14.0" font-weight="bold" text-anchor="middle" font-family="Liberation Sans, Arial, sans-serif">*</text>
<text x="346.7" y="358.7" font-size="14.0" font-weight="bold" text-anchor="middle" font-family="Liberation Sans, Arial, sans-serif">*</text>
<text x="443.3" y="419.7" font-size="14.0" font-weight="bold" text-anchor="middle" font-family="Liberation Sans, Arial, sans-serif">*</text>
<text x="466.5" y="399.9" font-size="14.0" font-weight="bold" text-anchor="middle" font-family="Liberation Sans, Arial, sans-serif">*</text>
<text x="502.1" y="419.7" font-size="14.0" font-weight="bold" text-anchor="middle" font-family="Liberation Sans, Arial, sans-serif">*</text>
<text x="516.5" y="419.7" font-size="14.0" font-weight="bold" text-anchor="middle" font-family="Liberation Sans, Arial, sans-serif">*</text>
<text x="523.4" y="399.9" font-size="14.0" font-weight="bold" text-anchor="middle" font-family="Liberation Sans, Arial, sans-serif">*</text>
<text x="550.3" y="379.8" font-size="14.0" font-weight="bold" text-anchor="middle" font-family="Liberation Sans, Arial, sans-serif">*</text>
<text x="575.4" y="399.9" font-size="14.0" font-weight="bold" text-anchor="middle" font-family="Liberation Sans, Arial, sans-serif">*</text>
<line x1="33.8" y1="465.3" x2="33.8" y2="485.3" stroke="#555" stroke-width="1.1"/>
<line x1="37.3" y1="465.3" x2="37.3" y2="485.3" stroke="#555" stroke-width="1.1"/>
<line x1="50.7" y1="465.3" x2="50.7" y2="485.3" stroke="#333" stroke-width="1.1"/>
<line x1="60.5" y1="465.3" x2="60.5" y2="485.3" stroke="#555" stroke-width="1.1"/>
<line x1="66.3" y1="465.3" x2="66.3" y2="485.3" stroke="#333" stroke-width="1.6"/>
<line x1="68.0" y1="465.3" x2="68.0" y2="504.8" stroke="#333" stroke-width="1.1"/>
<line x1="72.0" y1="465.3" x2="72.0" y2="485.3" stroke="#555" stroke-width="1.1"/>
<line x1="94.7" y1="465.3" x2="94.7" y2="485.3" stroke="#333" stroke-width="1.6"/>
<line x1="96.5" y1="465.3" x2="96.5" y2="504.8" stroke="#333" stroke-width="1.1"/>
<line x1="105.4" y1="465.3" x2="105.4" y2="485.3" stroke="#555" stroke-width="1.1"/>
<line x1="114.8" y1="465.3" x2="114.8" y2="485.3" stroke="#555" stroke-width="1.1"/>
<line x1="119.3" y1="465.3" x2="119.3" y2="485.3" stroke="#555" stroke-width="1.1"/>
<line x1="123.5" y1="465.3" x2="123.5" y2="485.3" stroke="#333" stroke-width="1.6"/>
<line x1="124.6" y1="465.3" x2="124.6" y2="504.8" stroke="#333" stroke-width="1.1"/>
<line x1="134.1" y1="465.3" x2="134.1" y2="485.3" stroke="#555" stroke-width="1.1"/>
<line x1="138.5" y1="465.3" x2="138.5" y2="485.3" stroke="#555" stroke-width="1.1"/>
<line x1="143.0" y1="465.3" x2="143.0" y2="485.3" stroke="#555" stroke-width="1.1"/>
<line x1="151.9" y1="469.9" x2="151.9" y2="485.3" stroke="#555" stroke-width="1.1"/>
<line x1="171.2" y1="469.9" x2="171.2" y2="485.3" stroke="#333" stroke-width="1.6"/>
<line x1="174.2" y1="469.9" x2="174.2" y2="485.3" stroke="#333" stroke-width="1.6"/>
<line x1="174.1" y1="469.9" x2="174.1" y2="604.2" stroke="#222" stroke-width="1.2"/>
<line x1="181.0" y1="469.9" x2="181.0" y2="485.3" stroke="#555" stroke-width="1.1"/>
<line x1="193.8" y1="469.9" x2="193.8" y2="485.3" stroke="#555" stroke-width="1.1"/>
<line x1="198.6" y1="469.9" x2="198.6" y2="485.3" stroke="#555" stroke-width="1.1"/>
<line x1="202.4" y1="469.9" x2="202.4" y2="485.3" stroke="#333" stroke-width="1.1"/>
<line x1="212.2" y1="469.9" x2="212.2" y2="485.3" stroke="#333" stroke-width="1.1"/>
<line x1="219.4" y1="469.9" x2="219.4" y2="485.3" stroke="#555" stroke-width="1.1"/>
<line x1="229.3" y1="469.9" x2="229.3" y2="485.3" stroke="#555" stroke-width="1.1"/>
<line x1="232.3" y1="469.9" x2="232.3" y2="485.3" stroke="#555" stroke-width="1.1"/>
<line x1="235.0" y1="465.3" x2="235.0" y2="485.3" stroke="#555" stroke-width="1.1"/>
<line x1="237.6" y1="465.3" x2="237.6" y2="485.3" stroke="#333" stroke-width="1.8"/>
<line x1="239.1" y1="465.3" x2="239.1" y2="504.8" stroke="#333" stroke-width="1.1"/>
<line x1="251.9" y1="465.3" x2="251.9" y2="485.3" stroke="#555" stroke-width="1.1"/>
<line x1="276.3" y1="469.9" x2="276.3" y2="485.3" stroke="#555" stroke-width="1.1"/>
<line x1="294.3" y1="469.9" x2="294.3" y2="485.3" stroke="#555" stroke-width="1.1"/>
<line x1="297.9" y1="469.9" x2="297.9" y2="504.8" stroke="#333" stroke-width="1.1"/>
<line x1="302.4" y1="469.9" x2="302.4" y2="485.3" stroke="#555" stroke-width="1.1"/>
<line x1="305.7" y1="469.9" x2="305.7" y2="485.3" stroke="#333" stroke-width="1.1"/>
<line x1="313.6" y1="469.9" x2="313.6" y2="485.3" stroke="#333" stroke-width="1.1"/>
<line x1="319.6" y1="469.9" x2="319.6" y2="485.3" stroke="#555" stroke-width="1.1"/>
<line x1="316.3" y1="469.9" x2="316.3" y2="485.3" stroke="#333" stroke-width="1.1"/>
<line x1="323.4" y1="469.9" x2="323.4" y2="485.3" stroke="#555" stroke-width="1.1"/>
<line x1="328.7" y1="469.9" x2="328.7" y2="485.3" stroke="#333" stroke-width="1.1"/>
<line x1="328.4" y1="469.9" x2="328.4" y2="504.8" stroke="#333" stroke-width="1.1"/>
<line x1="337.6" y1="469.9" x2="337.6" y2="485.3" stroke="#555" stroke-width="1.1"/>
<line x1="344.4" y1="469.9" x2="344.4" y2="485.3" stroke="#555" stroke-width="1.1"/>
<line x1="346.9" y1="469.9" x2="346.9" y2="524.5" stroke="#444" stroke-width="1.1"/>
<line x1="355.1" y1="465.3" x2="355.1" y2="485.3" stroke="#333" stroke-width="1.1"/>
<line x1="362.1" y1="469.9" x2="362.1" y2="485.3" stroke="#555" stroke-width="1.1"/>
<line x1="376.1" y1="469.9" x2="376.1" y2="485.3" stroke="#555" stroke-width="1.1"/>
<line x1="402.7" y1="469.9" x2="402.7" y2="485.3" stroke="#333" stroke-width="1.1"/>
<line x1="408.4" y1="469.9" x2="408.4" y2="485.3" stroke="#555" stroke-width="1.1"/>
<line x1="421.0" y1="465.3" x2="421.0" y2="485.3" stroke="#555" stroke-width="1.1"/>
<line x1="431.4" y1="465.3" x2="431.4" y2="485.3" stroke="#333" stroke-width="1.1"/>
<line x1="436.7" y1="465.3" x2="436.7" y2="485.3" stroke="#555" stroke-width="1.1"/>
<line x1="441.2" y1="465.3" x2="441.2" y2="485.3" stroke="#555" stroke-width="1.1"/>
<line x1="444.2" y1="465.3" x2="444.2" y2="485.3" stroke="#333" stroke-width="1.1"/>
<line x1="466.9" y1="465.3" x2="466.9" y2="485.3" stroke="#555" stroke-width="1.1"/>
<line x1="483.6" y1="465.3" x2="483.6" y2="485.3" stroke="#555" stroke-width="1.1"/>
<line x1="487.9" y1="465.3" x2="487.9" y2="485.3" stroke="#555" stroke-width="1.1"/>
<line x1="496.8" y1="465.3" x2="496.8" y2="485.3" stroke="#555" stroke-width="1.1"/>
<line x1="507.2" y1="469.9" x2="507.2" y2="485.3" stroke="#555" stroke-width="1.1"/>
<line x1="502.5" y1="465.3" x2="502.5" y2="485.3" stroke="#333" stroke-width="1.1"/>
<line x1="512.0" y1="469.9" x2="512.0" y2="485.3" stroke="#555" stroke-width="1.1"/>
<line x1="521.0" y1="469.9" x2="521.0" y2="485.3" stroke="#555" stroke-width="1.1"/>
<line x1="516.8" y1="469.9" x2="516.8" y2="485.3" stroke="#555" stroke-width="1.1"/>
<line x1="523.6" y1="469.9" x2="523.6" y2="504.8" stroke="#333" stroke-width="1.1"/>
<line x1="546.7" y1="469.9" x2="546.7" y2="485.3" stroke="#555" stroke-width="1.1"/>
<line x1="550.6" y1="469.9" x2="550.6" y2="504.8" stroke="#333" stroke-width="1.1"/>
<line x1="561.0" y1="469.9" x2="561.0" y2="485.3" stroke="#555" stroke-width="1.1"/>
<line x1="565.4" y1="469.9" x2="565.4" y2="485.3" stroke="#333" stroke-width="1.1"/>
<line x1="575.6" y1="469.9" x2="575.6" y2="485.3" stroke="#333" stroke-width="1.1"/>
<line x1="589.3" y1="469.9" x2="589.3" y2="485.3" stroke="#333" stroke-width="1.1"/>
<circle cx="33.8" cy="485.3" r="4.05" fill="#6a359c" stroke="#4a86b0" stroke-width="0.6"/>
<circle cx="37.3" cy="485.3" r="4.05" fill="#ee3e4b" stroke="#4a86b0" stroke-width="0.6"/>
<circle cx="50.7" cy="485.3" r="4.05" fill="#ee3e4b" stroke="#4a86b0" stroke-width="0.6"/>
<circle cx="60.5" cy="485.3" r="4.05" fill="#7ed348" stroke="#4a86b0" stroke-width="0.6"/>
<circle cx="66.3" cy="485.3" r="4.05" fill="#72d6e0" stroke="#4a86b0" stroke-width="0.6"/>
<circle cx="68.0" cy="504.8" r="4.05" fill="#7ed348" stroke="#4a86b0" stroke-width="0.6"/>
<circle cx="72.0" cy="485.3" r="4.05" fill="#7ed348" stroke="#4a86b0" stroke-width="0.6"/>
<circle cx="94.7" cy="485.3" r="4.05" fill="#eff83a" stroke="#4a86b0" stroke-width="0.6"/>
<circle cx="96.5" cy="504.8" r="4.05" fill="#ee3e4b" stroke="#4a86b0" stroke-width="0.6"/>
<circle cx="105.4" cy="485.3" r="4.05" fill="#ee3e4b" stroke="#4a86b0" stroke-width="0.6"/>
<circle cx="114.8" cy="485.3" r="4.05" fill="#eff83a" stroke="#4a86b0" stroke-width="0.6"/>
<circle cx="119.3" cy="485.3" r="4.05" fill="#eff83a" stroke="#4a86b0" stroke-width="0.6"/>
<circle cx="123.5" cy="485.3" r="4.05" fill="#ee3e4b" stroke="#4a86b0" stroke-width="0.6"/>
<circle cx="124.6" cy="504.8" r="4.05" fill="#ee3e4b" stroke="#4a86b0" stroke-width="0.6"/>
<circle cx="134.1" cy="485.3" r="4.05" fill="#72d6e0" stroke="#4a86b0" stroke-width="0.6"/>
<circle cx="138.5" cy="485.3" r="4.05" fill="#eff83a" stroke="#4a86b0" stroke-width="0.6"/>
<circle cx="143.0" cy="485.3" r="4.05" fill="#7ed348" stroke="#4a86b0" stroke-width="0.6"/>
<circle cx="151.9" cy="485.3" r="4.05" fill="#7ed348" stroke="#4a86b0" stroke-width="0.6"/>
<circle cx="171.2" cy="485.3" r="4.05" fill="#7ed348" stroke="#4a86b0" stroke-width="0.6"/>
<circle cx="174.2" cy="485.3" r="4.05" fill="#ee3e4b" stroke="#4a86b0" stroke-width="0.6"/>
<circle cx="174.1" cy="604.2" r="4.05" fill="#7ed348" stroke="#4a86b0" stroke-width="0.6"/>
<circle cx="181.0" cy="485.3" r="4.05" fill="#7ed348" stroke="#4a86b0" stroke-width="0.6"/>
<circle cx="193.8" cy="485.3" r="4.05" fill="#72d6e0" stroke="#4a86b0" stroke-width="0.6"/>
<circle cx="198.6" cy="485.3" r="4.05" fill="#eff83a" stroke="#4a86b0" stroke-width="0.6"/>
<circle cx="202.4" cy="485.3" r="4.05" fill="#ee3e4b" stroke="#4a86b0" stroke-width="0.6"/>
<circle cx="212.2" cy="485.3" r="4.05" fill="#ee3e4b" stroke="#4a86b0" stroke-width="0.6"/>
<circle cx="219.4" cy="485.3" r="4.05" fill="#72d6e0" stroke="#4a86b0" stroke-width="0.6"/>
<circle cx="229.3" cy="485.3" r="4.05" fill="#eff83a" stroke="#4a86b0" stroke-width="0.6"/>
<circle cx="232.3" cy="485.3" r="4.05" fill="#ee3e4b" stroke="#4a86b0" stroke-width="0.6"/>
<circle cx="235.0" cy="485.3" r="4.05" fill="#7ed348" stroke="#4a86b0" stroke-width="0.6"/>
<circle cx="237.6" cy="485.3" r="4.05" fill="#7ed348" stroke="#4a86b0" stroke-width="0.6"/>
<circle cx="239.1" cy="504.8" r="4.05" fill="#3d55b5" stroke="#4a86b0" stroke-width="0.6"/>
<circle cx="251.9" cy="485.3" r="4.05" fill="#7ed348" stroke="#4a86b0" stroke-width="0.6"/>
<circle cx="276.3" cy="485.3" r="4.05" fill="#7ed348" stroke="#4a86b0" stroke-width="0.6"/>
<circle cx="294.3" cy="485.3" r="4.05" fill="#7ed348" stroke="#4a86b0" stroke-width="0.6"/>
<circle cx="297.9" cy="504.8" r="4.05" fill="#ee3e4b" stroke="#4a86b0" stroke-width="0.6"/>
<circle cx="302.4" cy="485.3" r="4.05" fill="#72d6e0" stroke="#4a86b0" stroke-width="0.6"/>
<circle cx="305.7" cy="485.3" r="4.05" fill="#ee3e4b" stroke="#4a86b0" stroke-width="0.6"/>
<circle cx="313.6" cy="485.3" r="4.05" fill="#ee3e4b" stroke="#4a86b0" stroke-width="0.6"/>
<circle cx="319.6" cy="485.3" r="4.05" fill="#72d6e0" stroke="#4a86b0" stroke-width="0.6"/>
<circle cx="316.3" cy="485.3" r="4.05" fill="#3d55b5" stroke="#4a86b0" stroke-width="0.6"/>
<circle cx="323.4" cy="485.3" r="4.05" fill="#7ed348" stroke="#4a86b0" stroke-width="0.6"/>
<circle cx="328.7" cy="485.3" r="4.05" fill="#72d6e0" stroke="#4a86b0" stroke-width="0.6"/>
<circle cx="328.4" cy="504.8" r="4.05" fill="#72d6e0" stroke="#4a86b0" stroke-width="0.6"/>
<circle cx="337.6" cy="485.3" r="4.05" fill="#72d6e0" stroke="#4a86b0" stroke-width="0.6"/>
<circle cx="344.4" cy="485.3" r="4.05" fill="#ee3e4b" stroke="#4a86b0" stroke-width="0.6"/>
<circle cx="346.9" cy="524.5" r="4.05" fill="#ee3e4b" stroke="#4a86b0" stroke-width="0.6"/>
<circle cx="355.1" cy="485.3" r="4.05" fill="#eff83a" stroke="#4a86b0" stroke-width="0.6"/>
<circle cx="362.1" cy="485.3" r="4.05" fill="#ee3e4b" stroke="#4a86b0" stroke-width="0.6"/>
<circle cx="376.1" cy="485.3" r="4.05" fill="#7ed348" stroke="#4a86b0" stroke-width="0.6"/>
<circle cx="402.7" cy="485.3" r="4.05" fill="#ee3e4b" stroke="#4a86b0" stroke-width="0.6"/>
<circle cx="408.4" cy="485.3" r="4.05" fill="#72d6e0" stroke="#4a86b0" stroke-width="0.6"/>
<circle cx="421.0" cy="485.3" r="4.05" fill="#72d6e0" stroke="#4a86b0" stroke-width="0.6"/>
<circle cx="431.4" cy="485.3" r="4.05" fill="#7ed348" stroke="#4a86b0" stroke-width="0.6"/>
<circle cx="436.7" cy="485.3" r="4.05" fill="#ee3e4b" stroke="#4a86b0" stroke-width="0.6"/>
<circle cx="441.2" cy="485.3" r="4.05" fill="#7ed348" stroke="#4a86b0" stroke-width="0.6"/>
<circle cx="444.2" cy="485.3" r="4.05" fill="#eff83a" stroke="#4a86b0" stroke-width="0.6"/>
<circle cx="466.9" cy="485.3" r="4.05" fill="#7ed348" stroke="#4a86b0" stroke-width="0.6"/>
<circle cx="483.6" cy="485.3" r="4.05" fill="#7ed348" stroke="#4a86b0" stroke-width="0.6"/>
<circle cx="487.9" cy="485.3" r="4.05" fill="#eff83a" stroke="#4a86b0" stroke-width="0.6"/>
<circle cx="496.8" cy="485.3" r="4.05" fill="#ee3e4b" stroke="#4a86b0" stroke-width="0.6"/>
<circle cx="507.2" cy="485.3" r="4.05" fill="#ee3e4b" stroke="#4a86b0" stroke-width="0.6"/>
<circle cx="502.5" cy="485.3" r="4.05" fill="#7ed348" stroke="#4a86b0" stroke-width="0.6"/>
<circle cx="512.0" cy="485.3" r="4.05" fill="#7ed348" stroke="#4a86b0" stroke-width="0.6"/>
<circle cx="521.0" cy="485.3" r="4.05" fill="#7ed348" stroke="#4a86b0" stroke-width="0.6"/>
<circle cx="516.8" cy="485.3" r="4.05" fill="#eff83a" stroke="#4a86b0" stroke-width="0.6"/>
<circle cx="523.6" cy="504.8" r="4.05" fill="#3d55b5" stroke="#4a86b0" stroke-width="0.6"/>
<circle cx="546.7" cy="485.3" r="4.05" fill="#7ed348" stroke="#4a86b0" stroke-width="0.6"/>
<circle cx="550.6" cy="504.8" r="4.05" fill="#ee3e4b" stroke="#4a86b0" stroke-width="0.6"/>
<circle cx="561.0" cy="485.3" r="4.05" fill="#7ed348" stroke="#4a86b0" stroke-width="0.6"/>
<circle cx="565.4" cy="485.3" r="4.05" fill="#ee3e4b" stroke="#4a86b0" stroke-width="0.6"/>
<circle cx="575.6" cy="485.3" r="4.05" fill="#ee3e4b" stroke="#4a86b0" stroke-width="0.6"/>
<circle cx="589.3" cy="485.3" r="4.05" fill="#eff83a" stroke="#4a86b0" stroke-width="0.6"/>
<text x="37.3" y="499.7" font-size="14.0" font-weight="bold" text-anchor="middle" font-family="Liberation Sans, Arial, sans-serif">*</text>
<text x="68.0" y="519.2" font-size="14.0" font-weight="bold" text-anchor="middle" font-family="Liberation Sans, Arial, sans-serif">*</text>
<text x="96.5" y="519.2" font-size="14.0" font-weight="bold" text-anchor="middle" font-family="Liberation Sans, Arial, sans-serif">*</text>
<text x="120.3" y="499.7" font-size="14.0" font-weight="bold" text-anchor="middle" font-family="Liberation Sans, Arial, sans-serif">*</text>
<text x="124.6" y="519.2" font-size="14.0" font-weight="bold" text-anchor="middle" font-family="Liberation Sans, Arial, sans-serif">*</text>
<text x="134.1" y="499.7" font-size="14.0" font-weight="bold" text-anchor="middle" font-family="Liberation Sans, Arial, sans-serif">*</text>
<text x="139.3" y="499.7" font-size="14.0" font-weight="bold" text-anchor="middle" font-family="Liberation Sans, Arial, sans-serif">*</text>
<text x="174.2" y="499.7" font-size="14.0" font-weight="bold" text-anchor="middle" font-family="Liberation Sans, Arial, sans-serif">*</text>
<text x="174.1" y="618.6" font-size="14.0" font-weight="bold" text-anchor="middle" font-family="Liberation Sans, Arial, sans-serif">*</text>
<text x="237.6" y="499.7" font-size="14.0" font-weight="bold" text-anchor="middle" font-family="Liberation Sans, Arial, sans-serif">*</text>
<text x="294.3" y="499.7" font-size="14.0" font-weight="bold" text-anchor="middle" font-family="Liberation Sans, Arial, sans-serif">*</text>
<text x="297.9" y="519.2" font-size="14.0" font-weight="bold" text-anchor="middle" font-family="Liberation Sans, Arial, sans-serif">*</text>
<text x="337.6" y="499.7" font-size="14.0" font-weight="bold" text-anchor="middle" font-family="Liberation Sans, Arial, sans-serif">*</text>
<text x="346.9" y="538.9" font-size="14.0" font-weight="bold" text-anchor="middle" font-family="Liberation Sans, Arial, sans-serif">*</text>
<text x="444.2" y="499.7" font-size="14.0" font-weight="bold" text-anchor="middle" font-family="Liberation Sans, Arial, sans-serif">*</text>
<text x="466.9" y="499.7" font-size="14.0" font-weight="bold" text-anchor="middle" font-family="Liberation Sans, Arial, sans-serif">*</text>
<text x="502.5" y="499.7" font-size="14.0" font-weight="bold" text-anchor="middle" font-family="Liberation Sans, Arial, sans-serif">*</text>
<text x="516.8" y="499.7" font-size="14.0" font-weight="bold" text-anchor="middle" font-family="Liberation Sans, Arial, sans-serif">*</text>
<text x="523.6" y="519.2" font-size="14.0" font-weight="bold" text-anchor="middle" font-family="Liberation Sans, Arial, sans-serif">*</text>
<text x="550.6" y="519.2" font-size="14.0" font-weight="bold" text-anchor="middle" font-family="Liberation Sans, Arial, sans-serif">*</text>
<text x="575.6" y="499.7" font-size="14.0" font-weight="bold" text-anchor="middle" font-family="Liberation Sans, Arial, sans-serif">*</text>
<rect x="30.1" y="440.60" width="598.9" height="24.4" rx="4" ry="4" fill="#dce6f3" stroke="#4565ad" stroke-width="0.9"/>
<rect x="143.9" y="436.10" width="90.5" height="33.4" fill="#5bbce7" stroke="#4565ad" stroke-width="0.9"/>
<rect x="263.0" y="436.10" width="14.6" height="33.4" fill="#f0b92e" stroke="#4565ad" stroke-width="0.9"/>
<rect x="277.6" y="436.10" width="75.7" height="33.4" fill="#ea4b69" stroke="#4565ad" stroke-width="0.9"/>
<rect x="358.3" y="436.10" width="32.0" height="33.4" fill="#6a379d" stroke="#4565ad" stroke-width="0.9"/>
<rect x="392.3" y="436.10" width="20.6" height="33.4" fill="#c864b2" stroke="#4565ad" stroke-width="0.9"/>
<rect x="505.6" y="436.10" width="118.8" height="33.4" fill="#92d550" stroke="#4565ad" stroke-width="0.9"/>
<rect x="562.3" y="436.10" width="5.2" height="33.4" fill="#26282c" stroke="#4565ad" stroke-width="0.7"/>
<text x="23.2" y="455.8" font-size="8.2" text-anchor="middle" font-family="Liberation Sans, Arial, sans-serif" fill="#111">1</text>
<text x="70.2" y="455.8" font-size="8.2" text-anchor="middle" font-family="Liberation Sans, Arial, sans-serif" fill="#111">200</text>
<text x="115.6" y="455.8" font-size="8.2" text-anchor="middle" font-family="Liberation Sans, Arial, sans-serif" fill="#111">400</text>
<text x="244.4" y="455.8" font-size="8.2" text-anchor="middle" font-family="Liberation Sans, Arial, sans-serif" fill="#111">1000</text>
<text x="450.7" y="455.8" font-size="8.2" text-anchor="middle" font-family="Liberation Sans, Arial, sans-serif" fill="#111">2000</text>
<text x="491.8" y="455.8" font-size="8.2" text-anchor="middle" font-family="Liberation Sans, Arial, sans-serif" fill="#111">2200</text>
<text x="642.1" y="455.8" font-size="8.2" text-anchor="middle" font-family="Liberation Sans, Arial, sans-serif" fill="#111">2839</text>
<text x="188.8" y="457.2" font-size="13.4" text-anchor="middle" font-family="Liberation Sans, Arial, sans-serif" fill="#000">CSRD</text>
<text x="315.2" y="457.2" font-size="13.4" text-anchor="middle" font-family="Liberation Sans, Arial, sans-serif" fill="#000">GRD</text>
<text x="373.9" y="457.2" font-size="13.4" text-anchor="middle" font-family="Liberation Sans, Arial, sans-serif" fill="#fff">Sec</text>
<text x="402.5" y="457.2" font-size="13.4" text-anchor="middle" font-family="Liberation Sans, Arial, sans-serif" fill="#000">PH</text>
<text x="527.4" y="457.2" font-size="13.4" text-anchor="middle" font-family="Liberation Sans, Arial, sans-serif" fill="#000">CTD</text>
<text transform="translate(275.7,452.8) rotate(-90)" font-size="13.6" text-anchor="middle" font-family="Liberation Sans, Arial, sans-serif">TBD</text>
<text transform="translate(579.1,452.8) rotate(-90)" font-size="13.3" text-anchor="middle" font-family="Liberation Sans, Arial, sans-serif">NLS</text>
<text transform="translate(679.6,457.7) rotate(-90) scale(0.828,1)" font-size="23.4" stroke="#000" stroke-width="0.4" text-anchor="middle" font-family="Liberation Sans, Arial, sans-serif">Ambry</text>
</svg></body></html>
